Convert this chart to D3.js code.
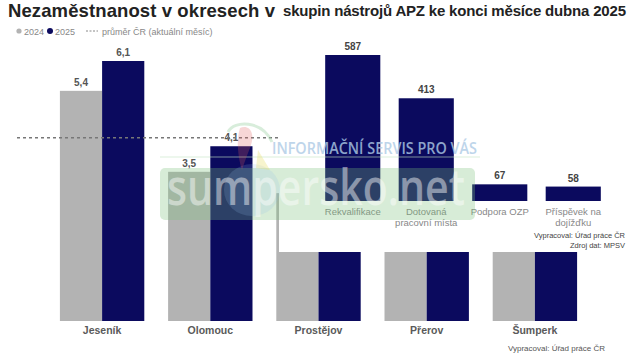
<!DOCTYPE html>
<html><head><meta charset="utf-8">
<script src="https://cdn.jsdelivr.net/npm/d3@7"></script>
<style>body{margin:0;background:#fff}svg{display:block;font-family:"Liberation Sans",Arial,sans-serif}</style>
</head><body><svg id="c" width="634" height="353"></svg>
<script>
// District chart data
const districts = ["Jeseník", "Olomouc", "Prostějov", "Přerov", "Šumperk"];
const series = ["2024", "2025"];
const values2024 = [5.4, 3.5, 3.0, 4.2, 4.7];
const values2025 = [6.1, 4.1, 3.4, 4.8, 5.4];
const showLabel = [true, true, false, false, false];
const averageCR = 4.3;
// APZ instruments chart data
const apzCategories = ["Rekvalifikace", "Dotovaná|pracovní místa", "Podpora OZP", "Příspěvek na|dojížďku"];
const apzValues = [587, 413, 67, 58];

const NAVY = "#0b0a5e", GREY = "#b3b3b3";
const svg = d3.select("#c");
const fmt = v => String(v.toFixed(1)).replace(".", ",");

// ---- main chart
const x = d3.scaleBand().domain(districts).range([48, 589]).paddingInner(0.22).paddingOuter(0.11);
const xs = d3.scaleBand().domain(series).range([0, x.bandwidth()]);
const y = d3.scaleLinear().domain([0, 6.1]).range([321, 61]);

const g = svg.append("g");
districts.forEach((d, i) => {
  const vals = [values2024[i], values2025[i]];
  series.forEach((s, j) => {
    g.append("rect").attr("x", x(d) + xs(s)).attr("y", y(vals[j]))
      .attr("width", xs.bandwidth()).attr("height", y(0) - y(vals[j]))
      .attr("fill", j ? NAVY : GREY);
    if (showLabel[i]) g.append("text").attr("x", x(d) + xs(s) + xs.bandwidth() / 2).attr("y", y(vals[j]) - 5)
      .attr("text-anchor", "middle").attr("font-size", 10).attr("font-weight", "bold").attr("fill", "#555").text(fmt(vals[j]));
  });
});
const xAxis = g.append("g").attr("transform", `translate(0,${y(0)})`).call(d3.axisBottom(x).tickSize(0).tickPadding(6));
xAxis.select(".domain").remove();
xAxis.selectAll("text").attr("font-size", 10.5).attr("font-weight", "bold").attr("fill", "#5a5a5a").attr("font-family", "Liberation Sans, Arial, sans-serif");

g.append("line").attr("x1", 17).attr("x2", 280).attr("y1", y(averageCR)).attr("y2", y(averageCR))
  .attr("stroke", "#777").attr("stroke-width", 1.4).attr("stroke-dasharray", "3,3");

// title + legend
svg.append("text").attr("x", 8).attr("y", 17).attr("font-size", 18.5).attr("font-weight", "bold").attr("fill", "#222").attr("textLength", 267).text("Nezaměstnanost v okresech v");
const lg = svg.append("g").attr("font-size", 9).attr("fill", "#888");
lg.append("circle").attr("cx", 19).attr("cy", 31).attr("r", 2.6).attr("fill", GREY);
lg.append("text").attr("x", 24).attr("y", 34.5).text(series[0]);
lg.append("circle").attr("cx", 50).attr("cy", 31).attr("r", 3).attr("fill", NAVY);
lg.append("text").attr("x", 55).attr("y", 34.5).text(series[1]);
lg.append("line").attr("x1", 86).attr("x2", 98).attr("y1", 31).attr("y2", 31).attr("stroke", "#888").attr("stroke-dasharray", "2,1.5");
lg.append("text").attr("x", 102).attr("y", 34.5).text("průměr ČR (aktuální měsíc)");

svg.append("text").attr("x", 605).attr("y", 351).attr("text-anchor", "end").attr("font-size", 8).attr("fill", "#555").text("Vypracoval: Úřad práce ČR");

// ---- overlay APZ chart
const ov = svg.append("g");
ov.append("rect").attr("x", 279).attr("y", 0).attr("width", 355).attr("height", 252).attr("fill", "#fff");
ov.append("text").attr("x", 283).attr("y", 16).attr("font-size", 15).attr("font-weight", "bold").attr("fill", "#222").attr("textLength", 343).text("skupin nástrojů APZ ke konci měsíce dubna 2025");
const ax = d3.scaleBand().domain(apzCategories).range([316, 610]).paddingInner(0.25).paddingOuter(0.125);
const ay = d3.scaleLinear().domain([0, 587]).range([201, 55]);
apzCategories.forEach((c, i) => {
  ov.append("rect").attr("x", ax(c)).attr("y", ay(apzValues[i])).attr("width", ax.bandwidth())
    .attr("height", ay(0) - ay(apzValues[i])).attr("fill", NAVY);
  ov.append("text").attr("x", ax(c) + ax.bandwidth() / 2).attr("y", ay(apzValues[i]) - 5).attr("text-anchor", "middle")
    .attr("font-size", 10).attr("font-weight", "bold").attr("fill", "#444").text(apzValues[i]);
  const t = ov.append("text").attr("text-anchor", "middle").attr("font-size", 9.5).attr("fill", "#888");
  c.split("|").forEach((line, k) => t.append("tspan").attr("x", ax(c) + ax.bandwidth() / 2).attr("y", ay(0) + 14 + k * 11).text(line));
});
ov.append("text").attr("x", 625).attr("y", 238).attr("text-anchor", "end").attr("font-size", 7.5).attr("fill", "#444").text("Vypracoval: Úřad práce ČR");
ov.append("text").attr("x", 625).attr("y", 248).attr("text-anchor", "end").attr("font-size", 7.5).attr("fill", "#444").text("Zdroj dat: MPSV");

// ---- watermark
const wm = svg.append("g");
wm.append("rect").attr("x", 160).attr("y", 168).attr("width", 315).attr("height", 52).attr("rx", 5).attr("fill", "#7cc07a").attr("opacity", 0.3);
wm.append("path").attr("d", "M160,157 L480,157").attr("stroke", "#c6e6c6").attr("stroke-width", 1.2).attr("opacity", 0.6);
wm.append("ellipse").attr("cx", 252).attr("cy", 190).attr("rx", 28).attr("ry", 26).attr("fill", "#8fbfea").attr("opacity", 0.18);
wm.append("path").attr("d", "M240,128 C250,124 256,134 250,148 C246,158 244,164 242,170 C238,158 236,140 240,128 Z").attr("fill", "#e05a5a").attr("opacity", 0.25);
wm.append("path").attr("d", "M258,150 L270,170 L256,168 Z").attr("fill", "#e8e070").attr("opacity", 0.35);
wm.append("path").attr("d", "M228,132 C234,120 262,120 272,142").attr("fill", "none").attr("stroke", "#a8d8b0").attr("stroke-width", 3).attr("opacity", 0.45);
wm.append("text").attr("x", 272).attr("y", 154).attr("font-size", 16).attr("font-weight", 600).attr("fill", "#aecbe6").attr("opacity", 0.8).attr("font-family", "Open Sans, sans-serif").attr("textLength", 205).attr("lengthAdjust", "spacingAndGlyphs").text("INFORMAČNÍ SERVIS PRO VÁS");
wm.append("text").attr("x", 167).attr("y", 205).attr("font-size", 50).attr("font-weight", 600).attr("fill", "#fff").attr("opacity", 0.45).attr("font-family", "Open Sans, sans-serif").attr("textLength", 298).attr("lengthAdjust", "spacingAndGlyphs").text("sumpersko.net");
</script></body></html>
